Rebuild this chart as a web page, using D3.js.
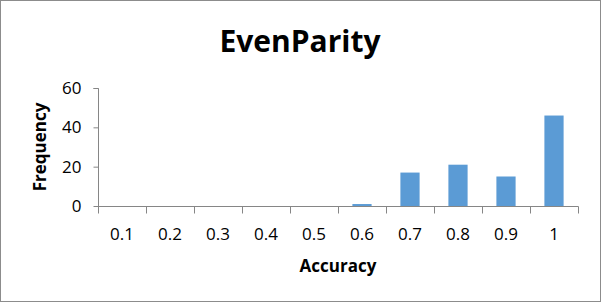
<!DOCTYPE html>
<html>
<head>
<meta charset="utf-8">
<script src="https://cdn.jsdelivr.net/npm/d3@7"></script>
<style>
  body { margin: 0; background: #fff; }
  text { font-family: "Open Sans", "Liberation Sans", sans-serif; }
</style>
</head>
<body>
<div id="chart"></div>
<script>
var categories = ['0.1', '0.2', '0.3', '0.4', '0.5', '0.6', '0.7', '0.8', '0.9', '1'];
var frequency = [0, 0, 0, 0, 0, 1, 17, 21, 15, 46];
var yTicks = [0, 20, 40, 60];

var width = 602,
    height = 303;

var svg = d3.select('#chart')
  .append('svg')
  .attr('width', width)
  .attr('height', height);

// chart frame
svg.append('rect')
  .attr('x', 0.5)
  .attr('y', 0.5)
  .attr('width', width - 2)
  .attr('height', height - 2)
  .attr('fill', '#fff')
  .attr('stroke', '#8c8c8c');

var xScale = d3.scaleBand()
  .domain(categories)
  .range([98, 578])
  .paddingInner(0.6)
  .paddingOuter(0.3);

var yScale = d3.scaleLinear()
  .domain([0, 60])
  .range([206, 88]);

// bars
svg.selectAll('rect.bar')
  .data(frequency)
  .enter()
  .append('rect')
  .attr('class', 'bar')
  .attr('x', (d, i) => xScale(categories[i]))
  .attr('y', d => yScale(d))
  .attr('width', xScale.bandwidth())
  .attr('height', d => yScale(0) - yScale(d))
  .style('fill', '#5b9bd5');

// y axis
var yAxis = d3.axisLeft(yScale)
  .tickValues(yTicks)
  .tickSize(5)
  .tickPadding(12);

var yAxisGroup = svg.append('g')
  .attr('transform', 'translate(98.5, 0)')
  .call(yAxis);

// x axis - ticks on band edges
var xLine = d3.scaleLinear().domain([0, categories.length]).range([98, 578]);

var xAxisGroup = svg.append('g')
  .attr('transform', 'translate(0, 206.5)');
xAxisGroup.append('line')
  .attr('x1', 98).attr('x2', 578.5)
  .attr('stroke', '#868686');
xAxisGroup.selectAll('line.tick')
  .data(d3.range(categories.length + 1))
  .enter()
  .append('line')
  .attr('class', 'tick')
  .attr('x1', d => Math.round(xLine(d)) + 0.5)
  .attr('x2', d => Math.round(xLine(d)) + 0.5)
  .attr('y1', 0)
  .attr('y2', 7)
  .attr('stroke', '#868686');
xAxisGroup.selectAll('text')
  .data(categories)
  .enter()
  .append('text')
  .attr('x', d => xScale(d) + xScale.bandwidth() / 2)
  .attr('y', 33)
  .attr('text-anchor', 'middle')
  .style('font-size', '17px')
  .style('fill', '#000')
  .text(d => d);

yAxisGroup.selectAll('path').attr('stroke', '#868686');
yAxisGroup.selectAll('line').attr('stroke', '#868686');
yAxisGroup.selectAll('text')
  .style('font-size', '17px')
  .style('fill', '#000')
  .style('font-family', '"Open Sans", sans-serif');
yAxisGroup.select('.domain').attr('d', 'M-5,88.5H0V206.5');

// title
svg.append('text')
  .attr('x', 300)
  .attr('y', 52)
  .attr('text-anchor', 'middle')
  .style('font-size', '30px')
  .style('font-weight', 'bold')
  .text('EvenParity');

// axis titles
svg.append('text')
  .attr('transform', 'rotate(-90)')
  .attr('x', -147)
  .attr('y', 46)
  .attr('text-anchor', 'middle')
  .style('font-size', '17px')
  .style('font-weight', 'bold')
  .text('Frequency');

svg.append('text')
  .attr('x', 338)
  .attr('y', 272)
  .attr('text-anchor', 'middle')
  .style('font-size', '17px')
  .style('font-weight', 'bold')
  .text('Accuracy');
</script>
</body>
</html>
